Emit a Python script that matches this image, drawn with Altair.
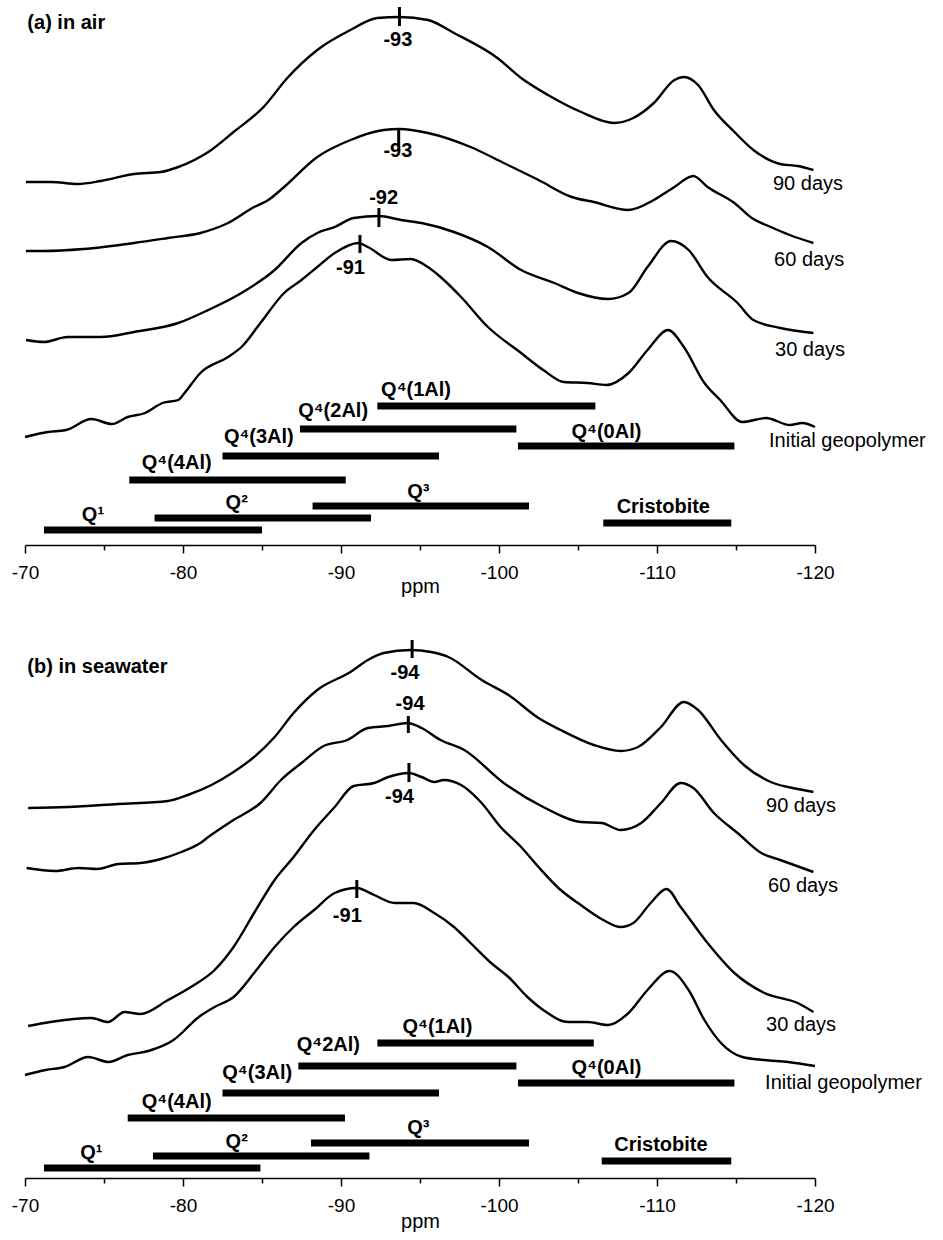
import altair as alt
import pandas as pd

FONT = "Liberation Sans"

# ---------------- Panel (a) in air : spectra (ppm, stacked intensity a.u.) ----------------
A90_PPM = [-70.06, -71.65, -73.35, -74.8, -76.9, -78.6, -79.7, -81.6, -83.2, -85.1,
           -86.6, -88.5, -90.6, -92.3, -93.7, -95.5, -97.15, -99.9, -101.4, -103.1,
           -105.2, -107.3, -108.5, -109.8, -111.1, -111.7, -112.6, -113.6, -114.9, -116.1,
           -117.8, -118.9, -119.9]
A90_VAL = [36.3, 36.3, 36.1, 36.4, 37.1, 37.3, 37.8, 39.3, 41.3, 43.8,
           46.7, 49.5, 51.5, 52.7, 52.8, 52.5, 51.2, 48.7, 46.7, 45.0,
           43.3, 42.2, 42.7, 44.2, 46.5, 46.8, 46.0, 43.5, 41.3, 39.5,
           38.1, 37.9, 37.5]

A60_PPM = [-70.06, -71.2, -73.7, -76.9, -79.05, -81.1, -82.85, -84.5, -85.4, -86.4,
           -88.5, -90.6, -92.7, -93.7, -95.5, -98.2, -100.3, -102.5, -104.6, -106.0,
           -108.2, -109.8, -111.1, -112.3, -113.2, -114.9, -116.0, -117.2, -118.4, -119.9]
A60_VAL = [29.4, 29.4, 29.6, 30.2, 30.7, 31.2, 32.2, 33.8, 34.5, 35.8,
           38.8, 40.5, 41.5, 41.6, 41.2, 39.8, 38.2, 36.5, 34.8, 34.3,
           33.5, 34.5, 35.8, 36.9, 35.8, 34.2, 32.7, 31.8, 31.0, 30.2]

A30_PPM = [-70.06, -71.2, -72.7, -74.8, -76.9, -79.7, -81.6, -83.7, -85.8, -87.5,
           -88.5, -89.6, -90.8, -92.4, -93.8, -95.1, -97.15, -99.3, -101.4, -103.5,
           -105.0, -106.9, -108.2, -109.4, -110.9, -112.0, -113.2, -115.1, -116.1, -117.8,
           -119.9]
A30_VAL = [20.5, 20.3, 20.8, 20.8, 21.3, 22.2, 23.5, 25.2, 27.5, 30.2,
           31.2, 31.8, 32.7, 32.9, 32.5, 32.2, 31.3, 29.8, 27.5, 26.2,
           25.2, 24.6, 25.2, 27.8, 30.4, 29.5, 26.8, 24.2, 22.5, 21.7,
           21.2]

AIN_PPM = [-70.0, -71.46, -72.6, -74.2, -75.5, -76.5, -77.6, -78.7, -79.7, -80.1,
           -81.1, -82.85, -83.7, -84.9, -86.4, -87.5, -88.5, -89.6, -91.1, -91.7,
           -93.2, -94.4, -95.5, -96.3, -97.6, -99.3, -101.4, -102.8, -104.1, -105.6,
           -106.8, -108.2, -109.4, -110.7, -111.7, -113.0, -114.0, -115.4, -116.9, -118.4,
           -119.2, -120.0]
AIN_VAL = [10.8, 11.3, 11.5, 12.6, 12.1, 12.8, 13.2, 14.2, 14.5, 15.2,
           17.2, 18.8, 19.8, 22.2, 25.2, 26.5, 27.8, 29.2, 30.2, 29.8,
           28.5, 28.6, 27.8, 26.8, 24.8, 21.8, 19.2, 17.5, 16.3, 16.2,
           16.0, 17.2, 19.5, 21.5, 19.8, 16.2, 14.5, 12.3, 12.7, 12.0,
           12.2, 11.8]

# ---------------- Panel (b) in seawater ----------------
B90_PPM = [-70.2, -72.7, -75.9, -79.05, -80.3, -81.8, -83.2, -84.5, -85.8, -87.0,
           -88.5, -90.6, -91.7, -92.7, -94.4, -95.7, -96.8, -98.9, -100.6, -102.5,
           -103.9, -106.0, -107.7, -108.8, -110.25, -111.7, -112.6, -114.05, -115.5, -117.2,
           -118.9, -119.9]
B90_VAL = [37.0, 37.1, 37.4, 37.7, 38.3, 39.3, 40.6, 42.1, 44.1, 46.5,
           48.8, 50.6, 51.8, 52.5, 52.8, 52.6, 52.1, 49.8, 48.3, 46.0,
           44.8, 43.3, 42.7, 43.1, 45.1, 47.6, 46.8, 43.8, 41.3, 39.6,
           38.9, 38.6]

B60_PPM = [-70.1, -71.9, -73.4, -74.6, -75.9, -77.3, -78.6, -79.9, -81.1, -81.6,
           -83.2, -84.9, -86.2, -87.5, -88.9, -90.4, -91.7, -93.0, -94.2, -95.1,
           -96.3, -97.8, -100.3, -102.8, -105.2, -106.5, -107.7, -109.0, -110.25, -111.5,
           -112.3, -113.6, -115.1, -116.6, -117.8, -119.9]
B60_VAL = [31.0, 30.7, 31.0, 30.9, 31.4, 31.5, 31.9, 32.6, 33.5, 34.1,
           35.8, 37.5, 39.8, 41.5, 43.2, 43.8, 45.0, 45.2, 45.5, 45.0,
           43.8, 42.8, 39.5, 37.1, 35.6, 35.5, 34.8, 35.5, 37.5, 39.5,
           39.0, 36.5, 34.5, 32.5, 31.8, 30.6]

B30_PPM = [-70.2, -71.6, -74.2, -75.25, -76.3, -77.3, -79.05, -80.5, -82.0, -83.2,
           -84.5, -85.8, -87.0, -88.3, -89.6, -90.8, -92.1, -93.0, -94.3, -95.1,
           -95.9, -96.5, -97.6, -98.9, -100.1, -101.4, -102.5, -103.9, -105.0, -106.6,
           -107.7, -108.5, -109.6, -110.6, -111.5, -113.2, -114.9, -116.8, -118.9, -119.9]
B30_VAL = [15.2, 15.6, 16.0, 15.6, 16.6, 16.4, 17.8, 19.1, 20.8, 23.1,
           26.5, 29.8, 32.1, 34.8, 37.1, 39.2, 39.5, 40.1, 40.5, 40.1,
           39.6, 39.8, 39.3, 37.5, 35.1, 33.1, 31.1, 28.8, 27.5, 25.8,
           25.1, 25.5, 27.5, 28.9, 27.1, 23.5, 20.5, 18.5, 17.5, 16.6]

BIN_PPM = [-70.0, -71.3, -72.5, -74.0, -75.3, -76.5, -77.8, -79.4, -81.0, -82.0,
           -83.2, -84.5, -85.8, -87.0, -88.3, -89.6, -91.0, -92.1, -93.4, -94.6,
           -95.9, -97.15, -98.2, -99.5, -100.6, -101.8, -102.8, -104.4, -105.6, -106.9,
           -108.2, -109.4, -110.8, -112.0, -113.0, -114.05, -115.4, -116.8, -118.3, -120.0]
BIN_VAL = [10.3, 10.8, 11.1, 12.1, 11.6, 12.3, 12.7, 13.8, 16.1, 17.1,
           18.1, 20.5, 23.1, 25.1, 26.8, 28.5, 29.0, 28.3, 27.5, 27.5,
           26.5, 25.1, 23.5, 21.5, 20.1, 18.1, 16.8, 15.6, 15.6, 15.3,
           16.5, 18.8, 20.7, 18.8, 15.8, 13.5, 12.1, 11.8, 11.6, 11.2]

# ---------------- sample labels (right side) ----------------
SAMPLE_NAMES = ["90 days", "60 days", "30 days", "Initial geopolymer"]
A_SAMPLE_PPM = [-117.34, -117.41, -117.47, -117.09]
A_SAMPLE_VAL = [36.1, 28.5, 19.5, 10.4]
B_SAMPLE_PPM = [-116.9, -117.03, -116.9, -116.84]
B_SAMPLE_VAL = [37.2, 29.2, 15.3, 9.5]

# ---------------- peak markers ----------------
A_PEAK_PPM = [-93.7, -93.65, -92.4, -91.2]
A_PEAK_LO = [51.9, 39.8, 31.8, 29.2]
A_PEAK_HI = [53.8, 41.7, 33.7, 31.0]
A_PEAK_TEXT = ["-93", "-93", "-92", "-91"]
A_PEAK_TXT_PPM = [-93.6, -93.6, -92.7, -90.6]
A_PEAK_TXT_VAL = [50.5, 39.4, 34.7, 27.75]

B_PEAK_PPM = [-94.5, -94.26, -94.3, -91.0]
B_PEAK_LO = [52.0, 44.5, 39.6, 28.0]
B_PEAK_HI = [53.8, 46.2, 41.5, 29.8]
B_PEAK_TEXT = ["-94", "-94", "-94", "-91"]
B_PEAK_TXT_PPM = [-94.05, -94.37, -93.7, -90.4]
B_PEAK_TXT_VAL = [50.5, 47.4, 38.1, 26.2]

# ---------------- assignment ranges ----------------
A_RANGE_LABEL = ["Q⁴(1Al)", "Q⁴(2Al)", "Q⁴(0Al)", "Q⁴(3Al)", "Q⁴(4Al)", "Q³", "Q²", "Q¹", "Cristobite"]
A_RANGE_START = [-92.3, -87.4, -101.2, -82.5, -76.6, -88.2, -78.2, -71.2, -106.6]
A_RANGE_END = [-106.1, -101.1, -114.9, -96.2, -90.3, -101.9, -91.9, -85.0, -114.7]
A_RANGE_VAL = [13.9, 11.6, 9.9, 8.9, 6.5, 3.9, 2.7, 1.5, 2.2]
A_LABEL_PPM = [-94.75, -89.5, -106.8, -84.8, -79.6, -94.9, -83.4, -74.3, -110.4]
A_LABEL_VAL = [15.5, 13.4, 11.3, 10.8, 8.2, 5.3, 4.2, 3.0, 3.8]

B_RANGE_LABEL = ["Q⁴(1Al)", "Q⁴2Al)", "Q⁴(0Al)", "Q⁴(3Al)", "Q⁴(4Al)", "Q³", "Q²", "Q¹", "Cristobite"]
B_RANGE_START = [-92.3, -87.3, -101.2, -82.5, -76.5, -88.1, -78.1, -71.2, -106.5]
B_RANGE_END = [-106.0, -101.1, -114.9, -96.2, -90.25, -101.9, -91.8, -84.9, -114.7]
B_RANGE_VAL = [13.5, 11.2, 9.5, 8.5, 6.0, 3.5, 2.2, 1.0, 1.7]
B_LABEL_PPM = [-96.1, -89.2, -106.8, -84.7, -79.6, -94.9, -83.4, -74.2, -110.25]
B_LABEL_VAL = [15.1, 13.3, 11.0, 10.5, 7.6, 5.0, 3.6, 2.5, 3.3]

TICK_VALUES = [-70, -75, -80, -85, -90, -95, -100, -105, -110, -115, -120]

XSCALE = alt.Scale(domain=[-120, -70], reverse=True, nice=False, zero=False)
YSCALE = alt.Scale(domain=[0, 54], nice=False, zero=False)

BOLD_SIZE = 20
PLAIN_SIZE = 20


def x_axis(title_y):
    return alt.Axis(
        values=TICK_VALUES,
        labelExpr="datum.value % 10 === 0 ? '' + datum.value : ''",
        tickSize={"condition": {"test": "datum.value % 10 === 0", "value": 8}, "value": 5},
        tickColor="black", tickWidth=1.5,
        domainColor="black", domainWidth=1.5,
        labelFont=FONT, labelFontSize=19, labelColor="black",
        labelPadding=10, labelFlush=False, labelOverlap=False,
        grid=False,
        title="ppm", titleFont=FONT, titleFontSize=20, titleFontWeight="normal",
        titleColor="black", titleBaseline="alphabetic", titleY=title_y,
    )


def panel(curves, s_ppm, s_val, pk_ppm, pk_lo, pk_hi, pk_txt, pk_tppm, pk_tval,
          r_lab, r_start, r_end, r_val, l_ppm, l_val, title, title_val, title_y):
    ax = x_axis(title_y)
    spec = pd.concat([pd.DataFrame({"ppm": p, "val": v, "series": n}) for n, p, v in curves])
    samples = pd.DataFrame({"ppm": s_ppm, "val": s_val, "label": SAMPLE_NAMES})
    peaks = pd.DataFrame({"ppm": pk_ppm, "lo": pk_lo, "hi": pk_hi})
    peak_txt = pd.DataFrame({"ppm": pk_tppm, "val": pk_tval, "label": pk_txt})
    ranges = pd.DataFrame({"start": r_start, "end": r_end, "val": r_val})
    range_txt = pd.DataFrame({"ppm": l_ppm, "val": l_val, "label": r_lab})
    ttl = pd.DataFrame({"ppm": [-70.15], "val": [title_val], "label": [title]})

    lines = alt.Chart(spec).mark_line(color="black", strokeWidth=2.4, interpolate="monotone").encode(
        x=alt.X("ppm:Q", scale=XSCALE, axis=ax),
        y=alt.Y("val:Q", scale=YSCALE, axis=None),
        detail="series:N",
        order=alt.Order("ppm:Q", sort="descending"),
    )
    sample_lbl = alt.Chart(samples).mark_text(
        align="left", baseline="middle", font=FONT, fontSize=PLAIN_SIZE, color="black"
    ).encode(
        x=alt.X("ppm:Q", scale=XSCALE, axis=ax),
        y=alt.Y("val:Q", scale=YSCALE, axis=None),
        text="label:N",
    )
    peak_marks = alt.Chart(peaks).mark_rule(color="black", strokeWidth=3).encode(
        x=alt.X("ppm:Q", scale=XSCALE, axis=ax),
        y=alt.Y("lo:Q", scale=YSCALE, axis=None),
        y2="hi:Q",
    )
    peak_lbl = alt.Chart(peak_txt).mark_text(
        align="center", baseline="middle", font=FONT, fontSize=BOLD_SIZE, fontWeight="bold", color="black"
    ).encode(
        x=alt.X("ppm:Q", scale=XSCALE, axis=ax),
        y=alt.Y("val:Q", scale=YSCALE, axis=None),
        text="label:N",
    )
    bars = alt.Chart(ranges).mark_rule(color="black", strokeWidth=7, strokeCap="butt").encode(
        x=alt.X("start:Q", scale=XSCALE, axis=ax),
        x2="end:Q",
        y=alt.Y("val:Q", scale=YSCALE, axis=None),
    )
    bar_lbl = alt.Chart(range_txt).mark_text(
        align="center", baseline="middle", font=FONT, fontSize=BOLD_SIZE, fontWeight="bold", color="black"
    ).encode(
        x=alt.X("ppm:Q", scale=XSCALE, axis=ax),
        y=alt.Y("val:Q", scale=YSCALE, axis=None),
        text="label:N",
    )
    title_lbl = alt.Chart(ttl).mark_text(
        align="left", baseline="middle", font=FONT, fontSize=BOLD_SIZE, fontWeight="bold", color="black"
    ).encode(
        x=alt.X("ppm:Q", scale=XSCALE, axis=ax),
        y=alt.Y("val:Q", scale=YSCALE, axis=None),
        text="label:N",
    )
    return alt.layer(lines, peak_marks, peak_lbl, bars, bar_lbl, sample_lbl, title_lbl).properties(
        width=790, height=540
    )


panel_a = panel(
    [("90", A90_PPM, A90_VAL), ("60", A60_PPM, A60_VAL), ("30", A30_PPM, A30_VAL), ("0", AIN_PPM, AIN_VAL)],
    A_SAMPLE_PPM, A_SAMPLE_VAL,
    A_PEAK_PPM, A_PEAK_LO, A_PEAK_HI, A_PEAK_TEXT, A_PEAK_TXT_PPM, A_PEAK_TXT_VAL,
    A_RANGE_LABEL, A_RANGE_START, A_RANGE_END, A_RANGE_VAL, A_LABEL_PPM, A_LABEL_VAL,
    "(a) in air", 52.2, 47,
)
panel_b = panel(
    [("90", B90_PPM, B90_VAL), ("60", B60_PPM, B60_VAL), ("30", B30_PPM, B30_VAL), ("0", BIN_PPM, BIN_VAL)],
    B_SAMPLE_PPM, B_SAMPLE_VAL,
    B_PEAK_PPM, B_PEAK_LO, B_PEAK_HI, B_PEAK_TEXT, B_PEAK_TXT_PPM, B_PEAK_TXT_VAL,
    B_RANGE_LABEL, B_RANGE_START, B_RANGE_END, B_RANGE_VAL, B_LABEL_PPM, B_LABEL_VAL,
    "(b) in seawater", 51.1, 49,
)

chart = (
    alt.vconcat(panel_a, panel_b, spacing=93, bounds="flush")
    .properties(padding={"left": 11, "top": 5, "right": 5, "bottom": 5})
    .configure(font=FONT)
    .configure_view(stroke=None)
)

chart.save("out.html", embed_options={"renderer": "svg", "actions": False})
